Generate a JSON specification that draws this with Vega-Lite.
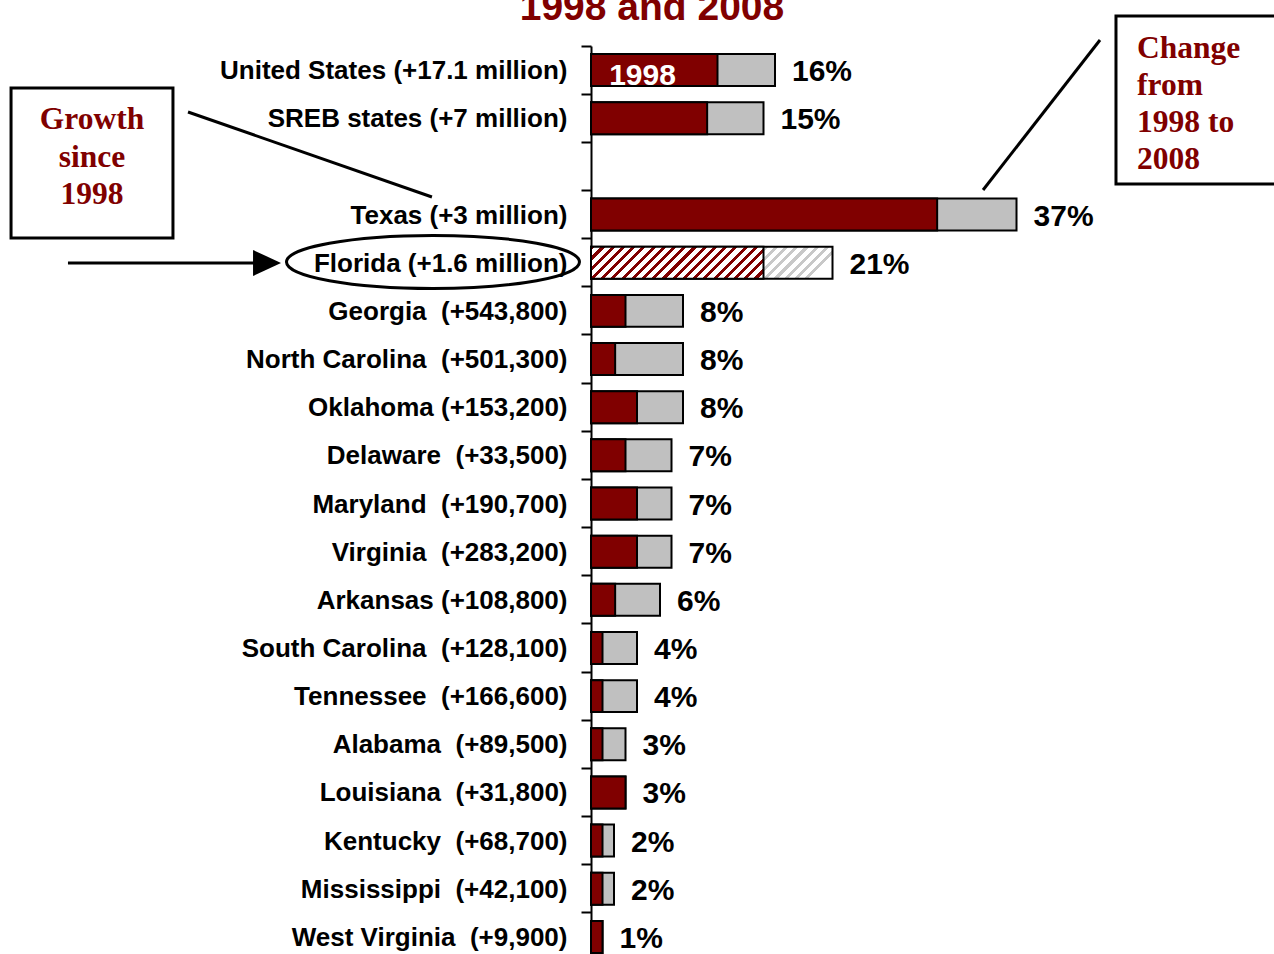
{
  "$schema": "https://vega.github.io/schema/vega-lite/v6.json",
  "width": 683,
  "height": 915,
  "autosize": {"type": "none"},
  "padding": {"left": 591, "top": 46, "right": 0, "bottom": 0},
  "background": "white",
  "config": {"view": {"stroke": null}},
  "datasets": {
    "bars": [
      {"cat": "United States (+17.1 million)", "red": 11, "total": 16, "pct": "16%"},
      {"cat": "SREB states (+7 million)", "red": 10.1, "total": 15, "pct": "15%"},
      {"cat": "Texas (+3 million)", "red": 30.1, "total": 37, "pct": "37%"},
      {"cat": "Florida (+1.6 million)", "red": 15, "total": 21, "pct": "21%"},
      {"cat": "Georgia\u00a0 (+543,800)", "red": 3, "total": 8, "pct": "8%"},
      {"cat": "North Carolina\u00a0 (+501,300)", "red": 2.1, "total": 8, "pct": "8%"},
      {"cat": "Oklahoma (+153,200)", "red": 4, "total": 8, "pct": "8%"},
      {"cat": "Delaware\u00a0 (+33,500)", "red": 3, "total": 7, "pct": "7%"},
      {"cat": "Maryland\u00a0 (+190,700)", "red": 4, "total": 7, "pct": "7%"},
      {"cat": "Virginia\u00a0 (+283,200)", "red": 4, "total": 7, "pct": "7%"},
      {"cat": "Arkansas (+108,800)", "red": 2.1, "total": 6, "pct": "6%"},
      {"cat": "South Carolina\u00a0 (+128,100)", "red": 1, "total": 4, "pct": "4%"},
      {"cat": "Tennessee\u00a0 (+166,600)", "red": 1, "total": 4, "pct": "4%"},
      {"cat": "Alabama\u00a0 (+89,500)", "red": 1, "total": 3, "pct": "3%"},
      {"cat": "Louisiana\u00a0 (+31,800)", "red": 3, "total": 3, "pct": "3%"},
      {"cat": "Kentucky\u00a0 (+68,700)", "red": 1, "total": 2, "pct": "2%"},
      {"cat": "Mississippi\u00a0 (+42,100)", "red": 1, "total": 2, "pct": "2%"},
      {"cat": "West Virginia\u00a0 (+9,900)", "red": 1, "total": 1, "pct": "1%"}
    ],
    "notes": [
      {"kind": "box", "x": -50.43, "x2": -36.35, "y": 0.372, "y2": 3.487},
      {"kind": "box", "x": 45.65, "x2": 61.65, "y": -1.123, "y2": 2.365},
      {"kind": "line", "x": -35.04, "x2": -13.83, "y": 0.87, "y2": 2.635},
      {"kind": "line", "x": 44.26, "x2": 34.09, "y": -0.625, "y2": 2.49},
      {"kind": "arrow", "x": -45.48, "x2": -28.6, "y": 4.006, "y2": 4.006},
      {"kind": "head", "x": -28.17, "y": 4.006},
      {"kind": "ellipse", "x": -13.74, "y": 3.985},
      {"kind": "growth", "x": -43.39, "y": 1.037, "text": "Growth\nsince\n1998"},
      {"kind": "change", "x": 47.48, "y": -0.438, "text": "Change\nfrom\n1998 to\n2008"},
      {"kind": "title", "x": 5.3, "y": -1.04, "text": "1998 and 2008"},
      {"kind": "yr", "x": 4.48, "y": 0.31, "text": "1998"}
    ]
  },
  "layer": [
    {
      "data": {"name": "bars"},
      "encoding": {
        "y": {
          "field": "cat", "type": "nominal", "sort": null,
          "scale": {
            "domain": ["United States (+17.1 million)", "SREB states (+7 million)", " ", "Texas (+3 million)", "Florida (+1.6 million)", "Georgia\u00a0 (+543,800)", "North Carolina\u00a0 (+501,300)", "Oklahoma (+153,200)", "Delaware\u00a0 (+33,500)", "Maryland\u00a0 (+190,700)", "Virginia\u00a0 (+283,200)", "Arkansas (+108,800)", "South Carolina\u00a0 (+128,100)", "Tennessee\u00a0 (+166,600)", "Alabama\u00a0 (+89,500)", "Louisiana\u00a0 (+31,800)", "Kentucky\u00a0 (+68,700)", "Mississippi\u00a0 (+42,100)", "West Virginia\u00a0 (+9,900)"],
            "paddingInner": 0.336, "paddingOuter": 0.168
          },
          "axis": {
            "title": null, "domainColor": "black", "domainWidth": 2,
            "tickColor": "black", "tickWidth": 2, "tickSize": 10, "bandPosition": -0.253,
            "labelPadding": 14, "labelFont": "Liberation Sans, Arial, sans-serif",
            "labelFontSize": 26, "labelFontWeight": "bold", "labelColor": "black", "labelLimit": 0, "labelOffset": 1
          }
        }
      },
      "layer": [
        {
          "transform": [{"filter": "datum.cat !== 'Florida (+1.6 million)'"}],
          "mark": {"type": "bar", "fill": "#C0C0C0", "stroke": "black", "strokeWidth": 2},
          "encoding": {"x": {"field": "total", "type": "quantitative", "scale": {"domain": [0, 59.39], "nice": false}, "axis": null}}
        },
        {
          "transform": [{"filter": "datum.cat === 'Florida (+1.6 million)'"}],
          "mark": {"type": "bar", "stroke": "black", "strokeWidth": 2,
            "fill": {"gradient": "linear", "x1": 0, "y1": 0, "x2": 1.038, "y2": 0.1375, "stops": [
              {"offset": 0, "color": "#c8c8c8"}, {"offset": 0.016, "color": "#c8c8c8"}, {"offset": 0.016, "color": "#ffffff"}, {"offset": 0.04, "color": "#ffffff"},
              {"offset": 0.04, "color": "#c8c8c8"}, {"offset": 0.056, "color": "#c8c8c8"}, {"offset": 0.056, "color": "#ffffff"}, {"offset": 0.08, "color": "#ffffff"},
              {"offset": 0.08, "color": "#c8c8c8"}, {"offset": 0.096, "color": "#c8c8c8"}, {"offset": 0.096, "color": "#ffffff"}, {"offset": 0.12, "color": "#ffffff"},
              {"offset": 0.12, "color": "#c8c8c8"}, {"offset": 0.136, "color": "#c8c8c8"}, {"offset": 0.136, "color": "#ffffff"}, {"offset": 0.16, "color": "#ffffff"},
              {"offset": 0.16, "color": "#c8c8c8"}, {"offset": 0.176, "color": "#c8c8c8"}, {"offset": 0.176, "color": "#ffffff"}, {"offset": 0.2, "color": "#ffffff"},
              {"offset": 0.2, "color": "#c8c8c8"}, {"offset": 0.216, "color": "#c8c8c8"}, {"offset": 0.216, "color": "#ffffff"}, {"offset": 0.24, "color": "#ffffff"},
              {"offset": 0.24, "color": "#c8c8c8"}, {"offset": 0.256, "color": "#c8c8c8"}, {"offset": 0.256, "color": "#ffffff"}, {"offset": 0.28, "color": "#ffffff"},
              {"offset": 0.28, "color": "#c8c8c8"}, {"offset": 0.296, "color": "#c8c8c8"}, {"offset": 0.296, "color": "#ffffff"}, {"offset": 0.32, "color": "#ffffff"},
              {"offset": 0.32, "color": "#c8c8c8"}, {"offset": 0.336, "color": "#c8c8c8"}, {"offset": 0.336, "color": "#ffffff"}, {"offset": 0.36, "color": "#ffffff"},
              {"offset": 0.36, "color": "#c8c8c8"}, {"offset": 0.376, "color": "#c8c8c8"}, {"offset": 0.376, "color": "#ffffff"}, {"offset": 0.4, "color": "#ffffff"},
              {"offset": 0.4, "color": "#c8c8c8"}, {"offset": 0.416, "color": "#c8c8c8"}, {"offset": 0.416, "color": "#ffffff"}, {"offset": 0.44, "color": "#ffffff"},
              {"offset": 0.44, "color": "#c8c8c8"}, {"offset": 0.456, "color": "#c8c8c8"}, {"offset": 0.456, "color": "#ffffff"}, {"offset": 0.48, "color": "#ffffff"},
              {"offset": 0.48, "color": "#c8c8c8"}, {"offset": 0.496, "color": "#c8c8c8"}, {"offset": 0.496, "color": "#ffffff"}, {"offset": 0.52, "color": "#ffffff"},
              {"offset": 0.52, "color": "#c8c8c8"}, {"offset": 0.536, "color": "#c8c8c8"}, {"offset": 0.536, "color": "#ffffff"}, {"offset": 0.56, "color": "#ffffff"},
              {"offset": 0.56, "color": "#c8c8c8"}, {"offset": 0.576, "color": "#c8c8c8"}, {"offset": 0.576, "color": "#ffffff"}, {"offset": 0.6, "color": "#ffffff"},
              {"offset": 0.6, "color": "#c8c8c8"}, {"offset": 0.616, "color": "#c8c8c8"}, {"offset": 0.616, "color": "#ffffff"}, {"offset": 0.64, "color": "#ffffff"},
              {"offset": 0.64, "color": "#c8c8c8"}, {"offset": 0.656, "color": "#c8c8c8"}, {"offset": 0.656, "color": "#ffffff"}, {"offset": 0.68, "color": "#ffffff"},
              {"offset": 0.68, "color": "#c8c8c8"}, {"offset": 0.696, "color": "#c8c8c8"}, {"offset": 0.696, "color": "#ffffff"}, {"offset": 0.72, "color": "#ffffff"},
              {"offset": 0.72, "color": "#c8c8c8"}, {"offset": 0.736, "color": "#c8c8c8"}, {"offset": 0.736, "color": "#ffffff"}, {"offset": 0.76, "color": "#ffffff"},
              {"offset": 0.76, "color": "#c8c8c8"}, {"offset": 0.776, "color": "#c8c8c8"}, {"offset": 0.776, "color": "#ffffff"}, {"offset": 0.8, "color": "#ffffff"},
              {"offset": 0.8, "color": "#c8c8c8"}, {"offset": 0.816, "color": "#c8c8c8"}, {"offset": 0.816, "color": "#ffffff"}, {"offset": 0.84, "color": "#ffffff"},
              {"offset": 0.84, "color": "#c8c8c8"}, {"offset": 0.856, "color": "#c8c8c8"}, {"offset": 0.856, "color": "#ffffff"}, {"offset": 0.88, "color": "#ffffff"},
              {"offset": 0.88, "color": "#c8c8c8"}, {"offset": 0.896, "color": "#c8c8c8"}, {"offset": 0.896, "color": "#ffffff"}, {"offset": 0.92, "color": "#ffffff"},
              {"offset": 0.92, "color": "#c8c8c8"}, {"offset": 0.936, "color": "#c8c8c8"}, {"offset": 0.936, "color": "#ffffff"}, {"offset": 0.96, "color": "#ffffff"},
              {"offset": 0.96, "color": "#c8c8c8"}, {"offset": 0.976, "color": "#c8c8c8"}, {"offset": 0.976, "color": "#ffffff"}, {"offset": 1, "color": "#ffffff"}
            ]}},
          "encoding": {"x": {"field": "total", "type": "quantitative", "scale": {"domain": [0, 59.39], "nice": false}, "axis": null}}
        },
        {
          "transform": [{"filter": "datum.cat !== 'Florida (+1.6 million)'"}],
          "mark": {"type": "bar", "fill": "#800000", "stroke": "black", "strokeWidth": 2},
          "encoding": {"x": {"field": "red", "type": "quantitative", "scale": {"domain": [0, 59.39], "nice": false}, "axis": null}}
        },
        {
          "transform": [{"filter": "datum.cat === 'Florida (+1.6 million)'"}],
          "mark": {"type": "bar", "stroke": "black", "strokeWidth": 2,
            "fill": {"gradient": "linear", "x1": 0, "y1": 0, "x2": 1.146, "y2": 0.2126, "stops": [
              {"offset": 0, "color": "#800000"}, {"offset": 0.02, "color": "#800000"}, {"offset": 0.02, "color": "#ffffff"}, {"offset": 0.05, "color": "#ffffff"},
              {"offset": 0.05, "color": "#800000"}, {"offset": 0.07, "color": "#800000"}, {"offset": 0.07, "color": "#ffffff"}, {"offset": 0.1, "color": "#ffffff"},
              {"offset": 0.1, "color": "#800000"}, {"offset": 0.12, "color": "#800000"}, {"offset": 0.12, "color": "#ffffff"}, {"offset": 0.15, "color": "#ffffff"},
              {"offset": 0.15, "color": "#800000"}, {"offset": 0.17, "color": "#800000"}, {"offset": 0.17, "color": "#ffffff"}, {"offset": 0.2, "color": "#ffffff"},
              {"offset": 0.2, "color": "#800000"}, {"offset": 0.22, "color": "#800000"}, {"offset": 0.22, "color": "#ffffff"}, {"offset": 0.25, "color": "#ffffff"},
              {"offset": 0.25, "color": "#800000"}, {"offset": 0.27, "color": "#800000"}, {"offset": 0.27, "color": "#ffffff"}, {"offset": 0.3, "color": "#ffffff"},
              {"offset": 0.3, "color": "#800000"}, {"offset": 0.32, "color": "#800000"}, {"offset": 0.32, "color": "#ffffff"}, {"offset": 0.35, "color": "#ffffff"},
              {"offset": 0.35, "color": "#800000"}, {"offset": 0.37, "color": "#800000"}, {"offset": 0.37, "color": "#ffffff"}, {"offset": 0.4, "color": "#ffffff"},
              {"offset": 0.4, "color": "#800000"}, {"offset": 0.42, "color": "#800000"}, {"offset": 0.42, "color": "#ffffff"}, {"offset": 0.45, "color": "#ffffff"},
              {"offset": 0.45, "color": "#800000"}, {"offset": 0.47, "color": "#800000"}, {"offset": 0.47, "color": "#ffffff"}, {"offset": 0.5, "color": "#ffffff"},
              {"offset": 0.5, "color": "#800000"}, {"offset": 0.52, "color": "#800000"}, {"offset": 0.52, "color": "#ffffff"}, {"offset": 0.55, "color": "#ffffff"},
              {"offset": 0.55, "color": "#800000"}, {"offset": 0.57, "color": "#800000"}, {"offset": 0.57, "color": "#ffffff"}, {"offset": 0.6, "color": "#ffffff"},
              {"offset": 0.6, "color": "#800000"}, {"offset": 0.62, "color": "#800000"}, {"offset": 0.62, "color": "#ffffff"}, {"offset": 0.65, "color": "#ffffff"},
              {"offset": 0.65, "color": "#800000"}, {"offset": 0.67, "color": "#800000"}, {"offset": 0.67, "color": "#ffffff"}, {"offset": 0.7, "color": "#ffffff"},
              {"offset": 0.7, "color": "#800000"}, {"offset": 0.72, "color": "#800000"}, {"offset": 0.72, "color": "#ffffff"}, {"offset": 0.75, "color": "#ffffff"},
              {"offset": 0.75, "color": "#800000"}, {"offset": 0.77, "color": "#800000"}, {"offset": 0.77, "color": "#ffffff"}, {"offset": 0.8, "color": "#ffffff"},
              {"offset": 0.8, "color": "#800000"}, {"offset": 0.82, "color": "#800000"}, {"offset": 0.82, "color": "#ffffff"}, {"offset": 0.85, "color": "#ffffff"},
              {"offset": 0.85, "color": "#800000"}, {"offset": 0.87, "color": "#800000"}, {"offset": 0.87, "color": "#ffffff"}, {"offset": 0.9, "color": "#ffffff"},
              {"offset": 0.9, "color": "#800000"}, {"offset": 0.92, "color": "#800000"}, {"offset": 0.92, "color": "#ffffff"}, {"offset": 0.95, "color": "#ffffff"},
              {"offset": 0.95, "color": "#800000"}, {"offset": 0.97, "color": "#800000"}, {"offset": 0.97, "color": "#ffffff"}, {"offset": 1, "color": "#ffffff"}
            ]}},
          "encoding": {"x": {"field": "red", "type": "quantitative", "scale": {"domain": [0, 59.39], "nice": false}, "axis": null}}
        },
        {
          "mark": {"type": "text", "align": "left", "baseline": "middle", "dx": 17, "dy": 2, "font": "Liberation Sans, Arial, sans-serif", "fontSize": 30, "fontWeight": "bold", "color": "black"},
          "encoding": {
            "x": {"field": "total", "type": "quantitative", "scale": {"domain": [0, 59.39], "nice": false}, "axis": null},
            "text": {"field": "pct", "type": "nominal"}
          }
        }
      ]
    },
    {
      "data": {"name": "notes"},
      "layer": [
        {
          "transform": [{"filter": "datum.kind === 'box'"}],
          "mark": {"type": "rect", "fill": "white", "stroke": "black", "strokeWidth": 3, "clip": false},
          "encoding": {
            "x": {"field": "x", "type": "quantitative", "scale": {"domain": [0, 59.39], "nice": false}, "axis": null},
            "x2": {"field": "x2"},
            "y": {"field": "y", "type": "quantitative", "scale": {"domain": [-0.5, 18.5], "reverse": true, "nice": false, "zero": false}, "axis": null},
            "y2": {"field": "y2"}
          }
        },
        {
          "transform": [{"filter": "datum.kind === 'line' || datum.kind === 'arrow'"}],
          "mark": {"type": "rule", "color": "black", "strokeWidth": 3, "clip": false},
          "encoding": {
            "x": {"field": "x", "type": "quantitative", "scale": {"domain": [0, 59.39], "nice": false}, "axis": null},
            "x2": {"field": "x2"},
            "y": {"field": "y", "type": "quantitative", "scale": {"domain": [-0.5, 18.5], "reverse": true, "nice": false, "zero": false}, "axis": null},
            "y2": {"field": "y2"},
            "strokeWidth": {"condition": {"test": "datum.kind === 'arrow'", "value": 4}, "value": 3}
          }
        },
        {
          "transform": [{"filter": "datum.kind === 'head'"}],
          "mark": {"type": "point", "shape": "M 1 0 L -1 -0.93 L -1 0.93 Z", "filled": true, "color": "black", "opacity": 1, "size": 784, "clip": false},
          "encoding": {
            "x": {"field": "x", "type": "quantitative", "scale": {"domain": [0, 59.39], "nice": false}, "axis": null},
            "y": {"field": "y", "type": "quantitative", "scale": {"domain": [-0.5, 18.5], "reverse": true, "nice": false, "zero": false}, "axis": null}
          }
        },
        {
          "transform": [{"filter": "datum.kind === 'ellipse'"}],
          "mark": {"type": "point", "shape": "M -1 0 C -1 -0.1 -0.5523 -0.181 0 -0.181 C 0.5523 -0.181 1 -0.1 1 0 C 1 0.1 0.5523 0.181 0 0.181 C -0.5523 0.181 -1 0.1 -1 0 Z", "filled": false, "stroke": "black", "strokeWidth": 3, "opacity": 1, "size": 85849, "clip": false},
          "encoding": {
            "x": {"field": "x", "type": "quantitative", "scale": {"domain": [0, 59.39], "nice": false}, "axis": null},
            "y": {"field": "y", "type": "quantitative", "scale": {"domain": [-0.5, 18.5], "reverse": true, "nice": false, "zero": false}, "axis": null}
          }
        },
        {
          "transform": [{"filter": "datum.kind === 'growth'"}],
          "mark": {"type": "text", "align": "center", "baseline": "middle", "lineBreak": "\n", "lineHeight": 37.5, "font": "Liberation Serif, Times New Roman, serif", "fontSize": 31.5, "fontWeight": "bold", "color": "#800000", "clip": false},
          "encoding": {
            "x": {"field": "x", "type": "quantitative", "scale": {"domain": [0, 59.39], "nice": false}, "axis": null},
            "y": {"field": "y", "type": "quantitative", "scale": {"domain": [-0.5, 18.5], "reverse": true, "nice": false, "zero": false}, "axis": null},
            "text": {"field": "text", "type": "nominal"}
          }
        },
        {
          "transform": [{"filter": "datum.kind === 'change'"}],
          "mark": {"type": "text", "align": "left", "baseline": "middle", "lineBreak": "\n", "lineHeight": 37, "font": "Liberation Serif, Times New Roman, serif", "fontSize": 31.5, "fontWeight": "bold", "color": "#800000", "clip": false},
          "encoding": {
            "x": {"field": "x", "type": "quantitative", "scale": {"domain": [0, 59.39], "nice": false}, "axis": null},
            "y": {"field": "y", "type": "quantitative", "scale": {"domain": [-0.5, 18.5], "reverse": true, "nice": false, "zero": false}, "axis": null},
            "text": {"field": "text", "type": "nominal"}
          }
        },
        {
          "transform": [{"filter": "datum.kind === 'title'"}],
          "mark": {"type": "text", "align": "center", "baseline": "alphabetic", "font": "Liberation Sans, Arial, sans-serif", "fontSize": 39, "fontWeight": "bold", "color": "#800000", "clip": false},
          "encoding": {
            "x": {"field": "x", "type": "quantitative", "scale": {"domain": [0, 59.39], "nice": false}, "axis": null},
            "y": {"field": "y", "type": "quantitative", "scale": {"domain": [-0.5, 18.5], "reverse": true, "nice": false, "zero": false}, "axis": null},
            "text": {"field": "text", "type": "nominal"}
          }
        },
        {
          "transform": [{"filter": "datum.kind === 'yr'"}],
          "mark": {"type": "text", "align": "center", "baseline": "alphabetic", "font": "Liberation Sans, Arial, sans-serif", "fontSize": 30, "fontWeight": "bold", "color": "white", "clip": false},
          "encoding": {
            "x": {"field": "x", "type": "quantitative", "scale": {"domain": [0, 59.39], "nice": false}, "axis": null},
            "y": {"field": "y", "type": "quantitative", "scale": {"domain": [-0.5, 18.5], "reverse": true, "nice": false, "zero": false}, "axis": null},
            "text": {"field": "text", "type": "nominal"}
          }
        }
      ]
    }
  ],
  "resolve": {"scale": {"y": "independent"}}
}
